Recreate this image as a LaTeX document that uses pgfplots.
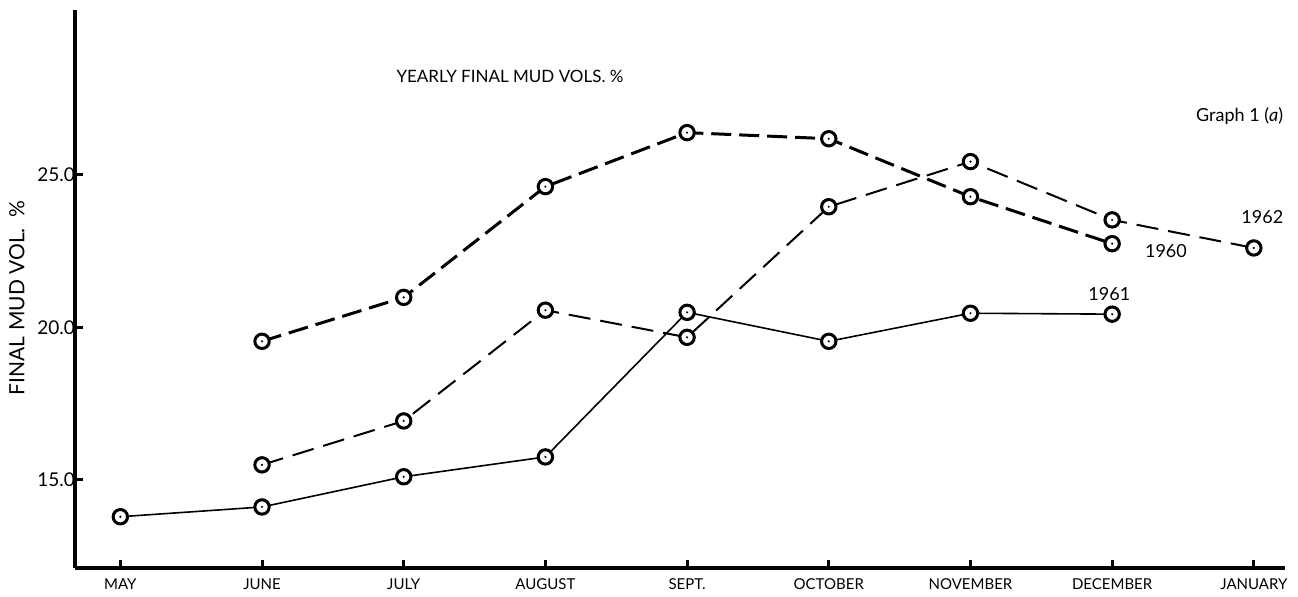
\documentclass[border=0pt]{standalone}
\usepackage{fontspec}
\setmainfont{Lato}
\usepackage{pgfplots}
\pgfplotsset{compat=1.18}
\pgfdeclareplotmark{dotcirc}{%
  \pgfpathcircle{\pgfpointorigin}{\pgfplotmarksize}%
  \pgfusepathqfillstroke
  \pgfscope
  \pgfsetfillcolor{black}%
  \pgfpathcircle{\pgfpointorigin}{0.6pt}%
  \pgfusepathqfill
  \endpgfscope
}
\begin{document}
\begin{tikzpicture}
\useasboundingbox (-37.5pt,-14.5pt) rectangle (611.5pt,284pt);
\begin{axis}[
  at={(0,0)}, anchor=south west,
  scale only axis, width=605pt, height=279pt,
  xmin=-0.32, xmax=8.22, ymin=12.11, ymax=30.4,
  axis x line*=bottom, axis y line*=left,
  axis line style={-, line width=2pt},
  xtick={0,...,8},
  xticklabels={MAY,JUNE,JULY,AUGUST,SEPT.,OCTOBER,NOVEMBER,DECEMBER,JANUARY},
  ytick={15,20,25},
  yticklabels={15.0,20.0,25.0},
  /pgf/number format/assume math mode=true,
  tick align=inside, major tick length=4pt,
  tick style={black, line width=1.5pt},
  xticklabel style={yshift=-2pt, font=\fontsize{7.5}{9}\selectfont},
  yticklabel style={xshift=3.5pt, font=\fontsize{9.5}{11}\selectfont},
  ylabel={FINAL MUD VOL.\ \ \%},
  ylabel style={at={(axis description cs:-0.048,0.484)}, anchor=center, rotate=0, font=\fontsize{10.5}{12}\selectfont},
  clip=false,
  mark options={solid, fill=white, line width=1.5pt},
]
% 1960
\addplot[black, line width=1.5pt, dash pattern=on 10pt off 4pt, mark=dotcirc, mark size=3.6pt]
  coordinates {(1,19.54) (2,20.98) (3,24.61) (4,26.38) (5,26.18) (6,24.28) (7,22.74)};
% 1962
\addplot[black, line width=1.0pt, dash pattern=on 11pt off 5pt, mark=dotcirc, mark size=3.6pt]
  coordinates {(1,15.49) (2,16.93) (3,20.56) (4,19.67) (5,23.95) (6,25.43) (7,23.52) (8,22.6)};
% 1961
\addplot[black, line width=0.8pt, mark=dotcirc, mark size=3.6pt]
  coordinates {(0,13.79) (1,14.11) (2,15.1) (3,15.75) (4,20.49) (5,19.54) (6,20.46) (7,20.43)};
\node[font=\fontsize{8.5}{10}\selectfont] at (axis cs:2.75,28.21) {YEARLY FINAL MUD VOLS. \%};
\node[font=\fontsize{9}{11}\selectfont] at (axis cs:7.9,26.93) {Graph 1 (\textit{a})};
\node[font=\fontsize{9}{11}\selectfont] at (axis cs:8.06,23.62) {1962};
\node[font=\fontsize{9}{11}\selectfont] at (axis cs:7.38,22.5) {1960};
\node[font=\fontsize{9}{11}\selectfont] at (axis cs:6.98,21.1) {1961};
\end{axis}
\end{tikzpicture}
\end{document}
